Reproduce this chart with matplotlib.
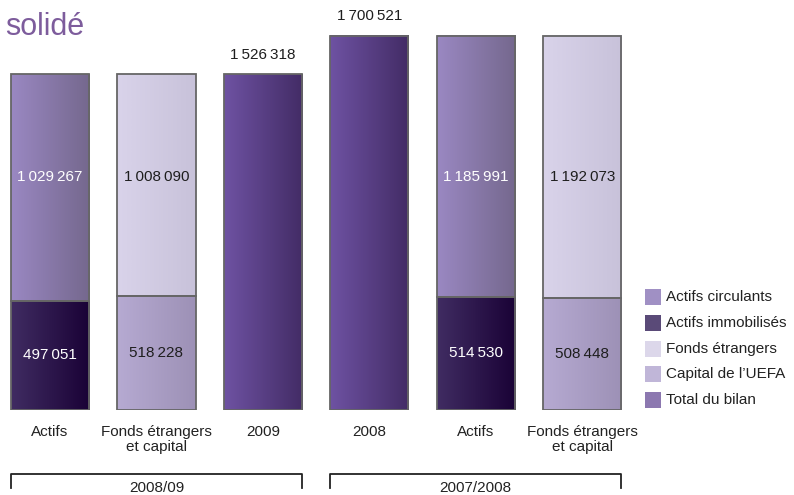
import numpy as np
import matplotlib.pyplot as plt
from matplotlib.colors import LinearSegmentedColormap
from matplotlib.patches import Rectangle
import matplotlib.transforms as mtransforms

plt.rcParams['font.family'] = ['Liberation Sans', 'DejaVu Sans']

# --- data (CHF thousands) ---
categories = ['Actifs', 'Fonds étrangers\net capital', '2009',
              '2008', 'Actifs', 'Fonds étrangers\net capital']
# bottom segment / top segment for each column (total bars have one segment)
bottom_vals = [497051, 518228, 1526318, 1700521, 514530, 508448]
top_vals = [1029267, 1008090, 0, 0, 1185991, 1192073]
bottom_kind = ['immo', 'capital', 'total', 'total', 'immo', 'capital']
top_kind = ['circ', 'fonds', None, None, 'circ', 'fonds']
groups = ['2008/09', '2007/2008']
group_span = [(0, 2), (3, 5)]

legend_labels = ['Actifs circulants', 'Actifs immobilisés', 'Fonds étrangers',
                 "Capital de l\u2019UEFA", 'Total du bilan']
legend_kinds = ['circ', 'immo', 'fonds', 'capital', 'total']

# gradient colours (left, right) and label text colour
grad = {
    'circ': ('#9a88c2', '#75688e'),
    'immo': ('#402c62', '#1a0236'),
    'fonds': ('#d9d3ea', '#c8c2da'),
    'capital': ('#b6aad2', '#9d91b6'),
    'total': ('#6e52a2', '#432c66'),
}
swatch = {'circ': '#a090c4', 'immo': '#5a4a78', 'fonds': '#dcd7ea',
          'capital': '#c0b6d8', 'total': '#8c78b0'}
txt_col = {'circ': 'white', 'immo': 'white', 'fonds': '#1e1e1e',
           'capital': '#1e1e1e', 'total': 'white'}


def fmt(v):
    return f'{v:,}'.replace(',', '\u2009')


fig = plt.figure(figsize=(7.94, 4.95), dpi=100)
ax = fig.add_axes([0, 85 / 495, 1, 410 / 495])
ax.set_xlim(-0.47, 6.99)
ax.set_ylim(0, 1862700)
for s in ax.spines.values():
    s.set_visible(False)
ax.set_yticks([])

width = 0.735
x = np.arange(len(categories))


def grad_bar(xc, y0, h, kind):
    c = LinearSegmentedColormap.from_list(kind, grad[kind])
    g = np.linspace(0, 1, 64).reshape(1, -1)
    ax.imshow(g, cmap=c, aspect='auto', interpolation='bicubic',
              extent=(xc - width / 2, xc + width / 2, y0, y0 + h), zorder=1)
    ax.add_patch(Rectangle((xc - width / 2, y0), width, h, fill=False,
                           edgecolor='#666666', linewidth=1.3, zorder=2))


label_upper_y = 1058600
for i in x:
    grad_bar(i, 0, bottom_vals[i], bottom_kind[i])
    if top_vals[i]:
        grad_bar(i, bottom_vals[i], top_vals[i], top_kind[i])
        ax.text(i, bottom_vals[i] / 2, fmt(bottom_vals[i]), ha='center', va='center',
                fontsize=11, color=txt_col[bottom_kind[i]], zorder=3)
        ax.text(i, label_upper_y, fmt(top_vals[i]), ha='center', va='center',
                fontsize=11, color=txt_col[top_kind[i]], zorder=3)
    else:
        ax.annotate(fmt(bottom_vals[i]), (i, bottom_vals[i]), xytext=(0, 9),
                    textcoords='offset points', ha='center', va='bottom',
                    fontsize=11, color='#1e1e1e')

ax.set_xticks(x)
ax.set_xticklabels(categories, fontsize=11, color='#222222', linespacing=1.1)
ax.tick_params(axis='x', length=0, pad=11)

# group brackets
tr = mtransforms.blended_transform_factory(ax.transData, ax.transAxes)
for (a, b), g in zip(group_span, groups):
    xl, xr = a - width / 2, b + width / 2
    ax.plot([xl, xl, xr, xr], [-0.19, -0.156, -0.156, -0.19], color='#222222',
            linewidth=1.3, transform=tr, clip_on=False)
    ax.text((xl + xr) / 2, -0.173, g, ha='center', va='top', fontsize=11,
            color='#222222', transform=tr)

# legend
for k, (lab, kind) in enumerate(zip(legend_labels, legend_kinds)):
    yc = 1 - (297 + 25.8 * k) / 495
    fig.patches.append(Rectangle((645 / 794, yc - 8 / 495), 16 / 794, 16 / 495,
                                 transform=fig.transFigure, facecolor=swatch[kind],
                                 edgecolor='none'))
    fig.text(666 / 794, yc, lab, ha='left', va='center', fontsize=11, color='#222222')

fig.text(5 / 794, 1 - 27 / 495, 'solidé', ha='left', va='center', fontsize=22,
         color='#7d5c9c')

fig.savefig('out.png', dpi=100)
